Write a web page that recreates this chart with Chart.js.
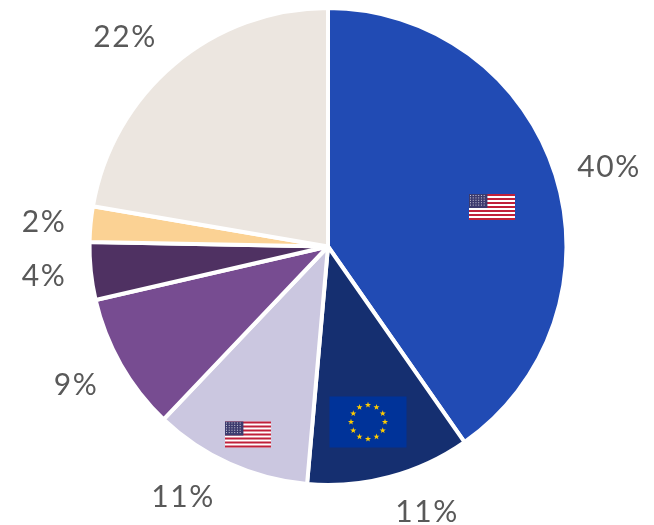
<!DOCTYPE html>
<html>
<head>
<meta charset="utf-8">
<style>
  html, body { margin: 0; padding: 0; background: #fff; }
  #wrap { width: 654px; height: 525px; }
</style>
<script src="https://cdn.jsdelivr.net/npm/chart.js@4"></script>
</head>
<body>
<div id="wrap"><canvas id="shareChart" width="654" height="525"></canvas></div>
<script>
// slices run clockwise from 12 o'clock
const categories = ['United States', 'Euro area', 'United States (other)', 'Slice 4', 'Slice 5', 'Slice 6', 'Other'];
const shareValues = [40.3, 11.1, 10.7, 9.3, 3.9, 2.4, 22.3];
const shareLabels = ['40%', '11%', '11%', '9%', '4%', '2%', '22%'];
const sliceColors = ['#214bb4', '#152f70', '#cbc7e0', '#774c91', '#4f3162', '#fbd294', '#ece6e0'];

// label and flag offsets are from the pie centre
const labelOffsets = [[281, -79], [99, 265.5], [-145, 250.5], [-252, 138.5], [-284, 29.5], [-284, -24.5], [-203, -209.5]];
const flags = [
  { kind: 'us', dx: 164, dy: -39.5, w: 46, h: 26 },
  { kind: 'eu', dx: 40, dy: 175.5, w: 77, h: 51 },
  { kind: 'us', dx: -80, dy: 188, w: 46, h: 26 }
];

function drawUs(ctx, x, y, w, h) {
  const stripe = h / 13;
  ctx.fillStyle = '#fff';
  ctx.fillRect(x, y, w, h);
  ctx.fillStyle = '#c0203a';
  for (let i = 0; i < 13; i += 2) ctx.fillRect(x, y + i * stripe, w, stripe);
  const cw = w * 0.4, ch = stripe * 7;
  ctx.fillStyle = '#3c3b6e';
  ctx.fillRect(x, y, cw, ch);
  ctx.fillStyle = 'rgba(255,255,255,0.75)';
  for (let r = 0; r < 5; r++) {
    for (let c = 0; c < 6; c++) {
      ctx.fillRect(x + 1 + c * (cw - 2) / 6, y + 1 + r * (ch - 2) / 5, 1, 1);
    }
  }
}

function drawEu(ctx, x, y, w, h) {
  ctx.fillStyle = '#003399';
  ctx.fillRect(x, y, w, h);
  const cx = x + w / 2, cy = y + h / 2, ring = h / 3;
  ctx.fillStyle = '#ffcc00';
  for (let i = 0; i < 12; i++) {
    const a = i * Math.PI / 6;
    const sx = cx + ring * Math.sin(a), sy = cy - ring * Math.cos(a);
    ctx.beginPath();
    for (let p = 0; p < 10; p++) {
      const rad = p % 2 ? 1.3 : 3.2;
      const t = p * Math.PI / 5;
      ctx.lineTo(sx + rad * Math.sin(t), sy - rad * Math.cos(t));
    }
    ctx.closePath();
    ctx.fill();
  }
}

const pieExtras = {
  id: 'pieExtras',
  afterDatasetsDraw(chart) {
    const ctx = chart.ctx;
    const arcs = chart.getDatasetMeta(0).data;
    const cx = arcs[0].x, cy = arcs[0].y;
    ctx.save();
    flags.forEach(f => {
      const x = cx + f.dx - f.w / 2, y = cy + f.dy - f.h / 2;
      if (f.kind === 'us') drawUs(ctx, x, y, f.w, f.h);
      else drawEu(ctx, x, y, f.w, f.h);
    });
    ctx.font = '30px Lato';
    ctx.letterSpacing = '1.5px';
    ctx.fillStyle = '#595959';
    ctx.textAlign = 'center';
    ctx.textBaseline = 'middle';
    shareLabels.forEach((txt, i) => {
      ctx.fillText(txt, cx + labelOffsets[i][0], cy + labelOffsets[i][1]);
    });
    ctx.restore();
  }
};

new Chart(document.getElementById('shareChart').getContext('2d'), {
  type: 'pie',
  data: {
    labels: categories,
    datasets: [{ data: shareValues, backgroundColor: sliceColors, borderColor: '#fff', borderWidth: 4 }]
  },
  options: {
    responsive: false,
    animation: false,
    layout: { padding: { left: 87, right: 85, top: 6, bottom: 38 } },
    plugins: { legend: { display: false }, tooltip: { enabled: false } }
  },
  plugins: [pieExtras]
});
</script>
</body>
</html>
